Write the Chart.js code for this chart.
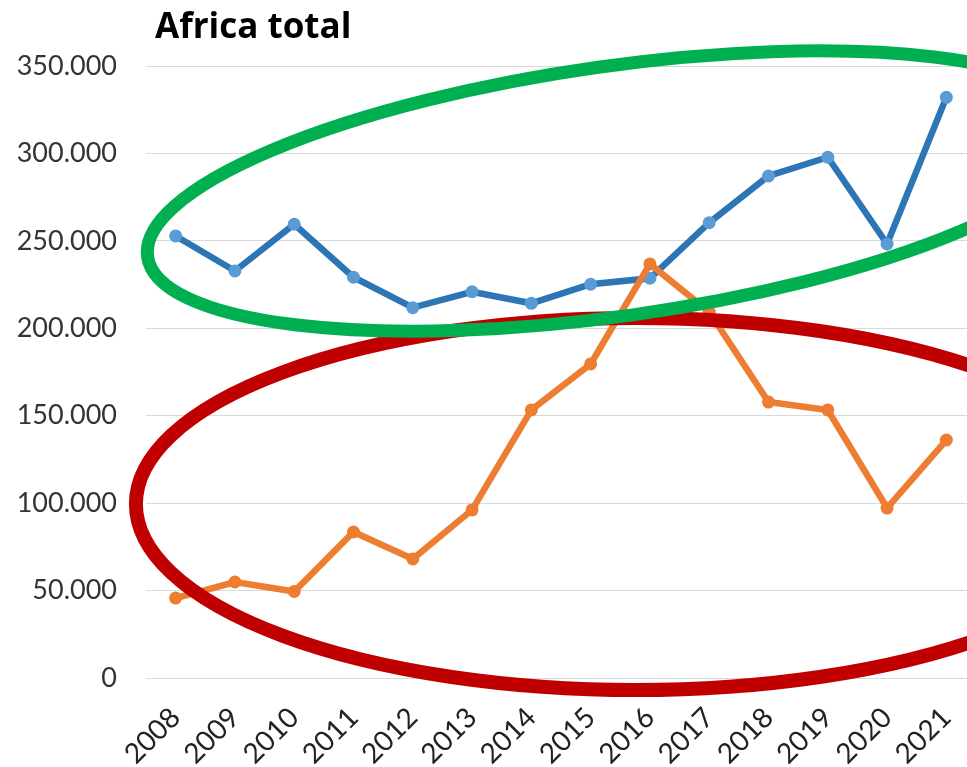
<!DOCTYPE html>
<html lang="en">

<head>
  <meta charset="UTF-8">
  <title>Africa total</title>
  <script src="https://cdn.jsdelivr.net/npm/chart.js"></script>
  <style>
    body { margin: 0; overflow: hidden; background: #fff; }
    .wrap { position: relative; width: 1000px; height: 767px; }
    .title {
      position: absolute; left: 155px; top: 7px;
      font: bold 35px "Open Sans", Lato, sans-serif; line-height: 1; color: #000;
    }
  </style>
</head>

<body>
  <div class="wrap">
    <canvas id="chart" width="1000" height="767"></canvas>
    <div class="title">Africa total</div>
  </div>

  <script>
    const years = ['2008', '2009', '2010', '2011', '2012', '2013', '2014', '2015', '2016', '2017', '2018', '2019', '2020', '2021'];
    const blueValues = [252800, 232800, 259500, 229200, 211800, 220900, 214300, 225200, 228600, 260400, 287100, 297800, 248200, 332100];
    const orangeValues = [45700, 54900, 49500, 83500, 68100, 96100, 153300, 179600, 236800, 209300, 157800, 153300, 97200, 136100];
    const yTicks = [0, 50000, 100000, 150000, 200000, 250000, 300000, 350000];

    // hand-drawn rings, in axis units (x = category index, y = value)
    const rings = [
      { color: '#c00000', width: 14, x: 7.76, y: 99500, rx: 8.43, ry: 106400, angle: 0 },
      { color: '#00b050', width: 13, x: 7.42, y: 278500, rx: 7.97, ry: 71500, angle: -8 }
    ];

    const ringPlugin = {
      id: 'rings',
      afterDatasetsDraw(chart) {
        const { ctx, scales: { x, y } } = chart;
        const unitX = x.getPixelForValue(1) - x.getPixelForValue(0);
        rings.forEach(r => {
          ctx.save();
          ctx.beginPath();
          ctx.ellipse(x.getPixelForValue(r.x), y.getPixelForValue(r.y),
            r.rx * unitX, y.getPixelForValue(0) - y.getPixelForValue(r.ry),
            r.angle * Math.PI / 180, 0, Math.PI * 2);
          ctx.strokeStyle = r.color;
          ctx.lineWidth = r.width;
          ctx.stroke();
          ctx.restore();
        });
      }
    };

    const tickFont = { family: 'Lato, "Open Sans", sans-serif', size: 27 };

    new Chart(document.getElementById('chart'), {
      type: 'line',
      data: {
        labels: years,
        datasets: [{
          data: orangeValues,
          borderColor: '#ed7d31',
          backgroundColor: '#ed7d31',
          pointBackgroundColor: '#ed7d31',
          borderWidth: 6.5,
          pointRadius: 6.5,
          pointBorderWidth: 0,
          tension: 0
        }, {
          data: blueValues,
          borderColor: '#2e75b6',
          backgroundColor: '#5b9bd5',
          pointBackgroundColor: '#5b9bd5',
          borderWidth: 6.5,
          pointRadius: 6.5,
          pointBorderWidth: 0,
          tension: 0
        }]
      },
      options: {
        responsive: false,
        animation: false,
        layout: { padding: { left: 0, right: 24, top: 66, bottom: 0 } },
        plugins: { legend: { display: false }, tooltip: { enabled: false } },
        scales: {
          x: {
            offset: true,
            grid: { display: false },
            border: { display: false },
            ticks: {
              font: { family: 'Lato, "Open Sans", sans-serif', size: 28 }, color: '#222', autoSkip: false,
              minRotation: 45, maxRotation: 45, padding: 15
            },
            afterFit: s => { s.height = 89; }
          },
          y: {
            min: 0, max: 350000,
            afterBuildTicks: s => { s.ticks = yTicks.map(v => ({ value: v })); },
            grid: { color: '#d9d9d9', lineWidth: 1, drawTicks: false },
            border: { display: false },
            ticks: {
              font: tickFont, color: '#333', padding: 29,
              callback: v => v.toLocaleString('de-DE')
            },
            afterFit: s => { s.width = 146; }
          }
        }
      },
      plugins: [ringPlugin]
    });
  </script>
</body>

</html>
